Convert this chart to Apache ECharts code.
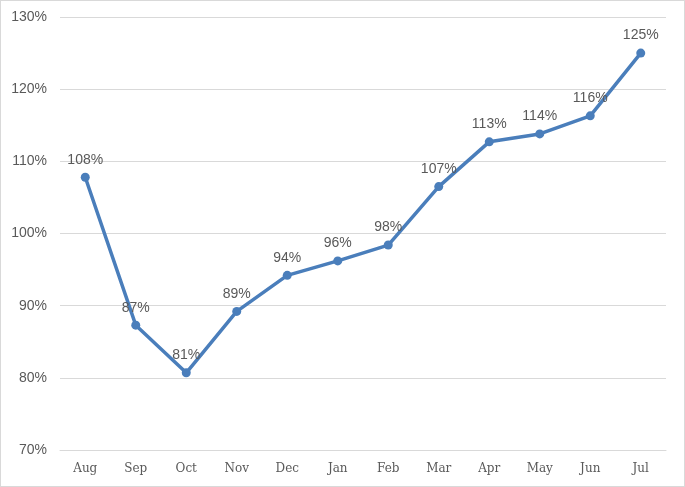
<!DOCTYPE html>
<html>
<head>
<meta charset="utf-8">
<script src="https://cdn.jsdelivr.net/npm/echarts@6/dist/echarts.min.js"></script>
<style>
  html, body { margin: 0; padding: 0; background: #fff; }
  #main { width: 685px; height: 487px; box-sizing: border-box; border: 1px solid #d9d9d9; }
</style>
</head>
<body>
<div id="main"></div>
<script>
// months and values (percent)
var months = ['Aug', 'Sep', 'Oct', 'Nov', 'Dec', 'Jan', 'Feb', 'Mar', 'Apr', 'May', 'Jun', 'Jul'];
var values = [107.8, 87.3, 80.7, 89.2, 94.2, 96.2, 98.4, 106.5, 112.7, 113.8, 116.3, 125.0];
var yTicks = [70, 80, 90, 100, 110, 120, 130];

var chart = echarts.init(document.getElementById('main'), null, { width: 683, height: 485 });

var option = {
    backgroundColor: '#fff',
    animation: false,
    grid: { left: 59, right: 18, top: 16, bottom: 36 },
    xAxis: {
        type: 'category',
        data: months,
        boundaryGap: true,
        axisLine: { lineStyle: { color: '#d9d9d9' } },
        axisTick: { show: false },
        axisLabel: {
            color: '#595959',
            fontFamily: 'DejaVu Serif',
            fontSize: 12,
            margin: 13
        }
    },
    yAxis: {
        type: 'value',
        min: yTicks[0],
        max: yTicks[yTicks.length - 1],
        interval: 10,
        axisLine: { show: false },
        axisTick: { show: false },
        splitLine: { lineStyle: { color: '#d9d9d9', width: 1 } },
        axisLabel: {
            color: '#595959',
            fontFamily: 'Liberation Sans',
            fontSize: 14,
            margin: 13,
            formatter: function (v) { return v + '%'; }
        }
    },
    series: [{
        type: 'line',
        data: values,
        symbol: 'circle',
        symbolSize: 9,
        lineStyle: { color: '#4a7ebb', width: 3.5 },
        itemStyle: { color: '#4a7ebb' },
        label: {
            show: true,
            position: 'top',
            distance: 6,
            color: '#595959',
            fontFamily: 'Liberation Sans',
            fontSize: 14,
            formatter: function (p) { return Math.round(p.value) + '%'; }
        }
    }]
};
chart.setOption(option);
</script>
</body>
</html>
